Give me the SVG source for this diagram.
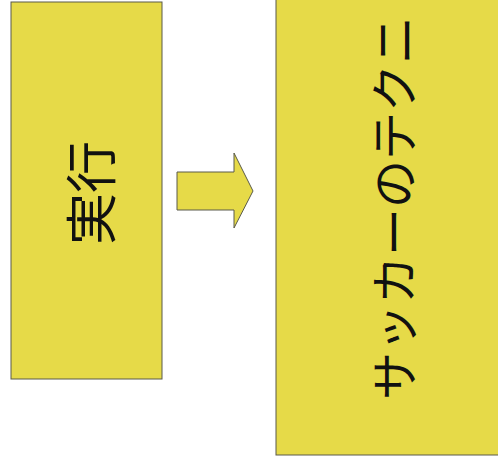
<svg xmlns="http://www.w3.org/2000/svg" width="498" height="463" viewBox="0 0 498 463">
<style>
.box{fill:#e6da48;stroke:#5a5a4a;stroke-width:1}
.lbl{font-family:"Noto Sans CJK JP","Noto Sans CJK SC",sans-serif;fill:#111;dominant-baseline:central;text-anchor:middle}
</style>
<rect width="498" height="463" fill="#ffffff"/>
<g id="node-execute">
<rect class="box" x="11" y="2" width="151" height="377"/>
<text class="lbl" font-size="52" transform="translate(88,193) rotate(-90)">実行</text>
</g>
<g id="connectors">
<polygon class="box" points="177,172 234,172 234,153 253,191 234,228 234,210 177,210"/>
</g>
<g id="node-soccer">
<rect class="box" x="276" y="-2" width="230" height="457"/>
<text class="lbl" font-size="48" style="text-anchor:start" transform="translate(391,400) rotate(-90)">サッカーのテクニ</text>
</g>
</svg>
